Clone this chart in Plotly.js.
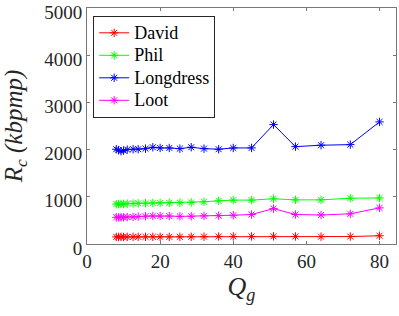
<!DOCTYPE html>
<html>
<head>
<meta charset="utf-8">
<script src="https://cdn.plot.ly/plotly-3.0.1.min.js"></script>
<style>html,body{margin:0;padding:0;background:#fff;}#chart{width:399px;height:316px;}</style>
</head>
<body>
<div id="chart"></div>
<script>
var qg = [8, 8.6, 9.3, 10, 11, 12.6, 14, 16, 18, 20, 22.5, 25.4, 28.5, 32, 36, 40, 45, 51, 57, 64, 72, 80];
var david = [150, 150, 150, 150, 150, 152, 152, 152, 152, 152, 152, 152, 153, 155, 158, 160, 160, 163, 160, 155, 158, 175];
var phil = [845, 845, 848, 850, 855, 858, 862, 865, 868, 870, 872, 875, 880, 895, 915, 930, 930, 958, 935, 935, 970, 975];
var longdress = [2008, 1990, 1965, 1980, 2000, 2008, 2008, 2020, 2050, 2035, 2035, 2020, 2050, 2020, 2008, 2035, 2035, 2530, 2063, 2093, 2105, 2587];
var loot = [565, 565, 565, 567, 570, 572, 580, 590, 595, 592, 592, 585, 587, 595, 600, 610, 625, 750, 625, 615, 640, 765];
var seriesNames = ['David', 'Phil', 'Longdress', 'Loot'];
var xTicks = [0, 20, 40, 60, 80];
var yTicks = [0, 1000, 2000, 3000, 4000, 5000];

var colors = ['#ff0000', '#00ff00', '#0000ff', '#ff00ff'];
var data = [david, phil, longdress, loot].map(function (ys, i) {
  return {
    x: qg, y: ys, name: '<span style="font-size:18px">' + seriesNames[i] + '</span>',
    type: 'scatter', mode: 'lines+markers',
    line: {color: colors[i], width: 1},
    marker: {symbol: 'asterisk-open', size: 7, color: colors[i], line: {color: colors[i], width: 1}}
  };
});
var font = '"Liberation Serif", "Times New Roman", serif';
var axisCommon = {
  showgrid: false, zeroline: false, showline: true, linecolor: '#777', linewidth: 1,
  mirror: 'ticks', ticks: 'inside', ticklen: 3, tickcolor: '#777', tickwidth: 1,
  ticklabeloverflow: 'allow',
  tickfont: {family: font, size: 19, color: '#262626'}
};
var layout = {
  width: 399, height: 316,
  margin: {l: 87, r: 3, t: 8, b: 72},
  paper_bgcolor: '#fff', plot_bgcolor: '#fff',
  font: {family: font},
  showlegend: true,
  legend: {
    x: 0.02, y: 0.968, xanchor: 'left', yanchor: 'top',
    bgcolor: '#fff', bordercolor: '#262626', borderwidth: 1,
    font: {family: font, size: 15, color: '#000'}, tracegroupgap: 0
  },
  xaxis: Object.assign({}, axisCommon, {
    range: [0, 84.5], tickvals: xTicks, ticktext: xTicks.map(String),
    title: {text: '<i>Q</i><sub><i>g</i></sub>', font: {family: font, size: 26, color: '#262626'}, standoff: 6}
  }),
  yaxis: Object.assign({}, axisCommon, {
    range: [0, 5000], tickvals: yTicks, ticktext: yTicks.map(String),
    ticklabelshift: 4,
    title: {text: '<i>R</i><sub><i>c</i></sub> <i>(kbpmp)</i>', font: {family: font, size: 25, color: '#262626'}, standoff: 17}
  })
};
Plotly.newPlot('chart', data, layout, {displayModeBar: false, staticPlot: true});
</script>
</body>
</html>
